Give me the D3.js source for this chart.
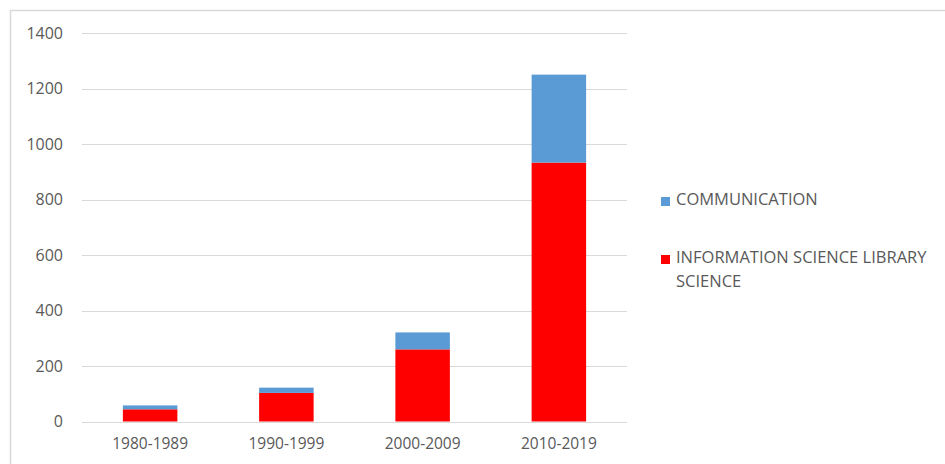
<!DOCTYPE html>
<html>
<head>
<meta charset="utf-8">
<script src="https://cdn.jsdelivr.net/npm/d3@7"></script>
<style>
  body { margin: 0; background: white; }
  svg { display: block; }
</style>
</head>
<body>
<div id="viz-container"></div>
<script>
// data
let decades = ["1980-1989", "1990-1999", "2000-2009", "2010-2019"];
let infoScience = [44, 103, 260, 933];
let communication = [14, 19, 61, 317];
let yTicks = [0, 200, 400, 600, 800, 1000, 1200, 1400];
let seriesNames = ["COMMUNICATION", "INFORMATION SCIENCE LIBRARY SCIENCE"];
let seriesColors = ["#5B9BD5", "#FF0000"];

let vizWidth = 945;
let vizHeight = 464;

let viz = d3.select("#viz-container")
    .append("svg")
        .attr("width", vizWidth)
        .attr("height", vizHeight)
        .style("font-family", "'Open Sans', sans-serif");

// chart frame
viz.append("rect")
    .attr("x", 10.5)
    .attr("y", 10.5)
    .attr("width", 960)
    .attr("height", 480)
    .attr("fill", "white")
    .attr("stroke", "#D9D9D9")
    .attr("stroke-width", 1.5);

let rows = decades.map(function(d, i){
    return { decade: d, info: infoScience[i], comm: communication[i] };
});

let stack = d3.stack().keys(["info", "comm"]);
let layers = stack(rows);

let x = d3.scaleBand()
    .domain(decades)
    .range([82, 627])
    .paddingInner(0.6)
    .paddingOuter(0.3);

let y = d3.scaleLinear()
    .domain([0, 1400])
    .range([421.5, 33]);

// gridlines
viz.append("g")
    .selectAll("line")
    .data(yTicks)
    .enter().append("line")
        .attr("x1", 82)
        .attr("x2", 627)
        .attr("y1", d => Math.round(y(d)) + 0.5)
        .attr("y2", d => Math.round(y(d)) + 0.5)
        .attr("stroke", "#D9D9D9")
        .attr("stroke-width", 1);

// y labels
let yAxis = viz.append("g")
    .attr("transform", "translate(63,0)")
    .call(d3.axisLeft(y).tickValues(yTicks).tickFormat(d3.format("d")).tickSize(0).tickPadding(0));
yAxis.select(".domain").remove();
yAxis.selectAll("text")
    .attr("fill", "#595959")
    .style("font-size", "16px")
    .style("font-family", "'Open Sans', sans-serif");

// bars
let colorOf = { info: "#FF0000", comm: "#5B9BD5" };
viz.append("g")
    .selectAll("g")
    .data(layers)
    .enter().append("g")
        .attr("fill", d => colorOf[d.key])
    .selectAll("rect")
    .data(d => d)
    .enter().append("rect")
        .attr("x", d => x(d.data.decade))
        .attr("width", x.bandwidth())
        .attr("y", d => y(d[1]))
        .attr("height", d => y(d[0]) - y(d[1]));

// x labels
let xAxis = viz.append("g")
    .attr("transform", "translate(0,438)")
    .call(d3.axisBottom(x).tickSize(0).tickPadding(0));
xAxis.select(".domain").remove();
xAxis.selectAll("text")
    .attr("fill", "#595959")
    .attr("dy", "0.71em")
    .style("font-size", "15.5px")
    .style("font-family", "'Open Sans', sans-serif");

// legend
let legend = viz.append("g");
let legendY = [197, 255];
seriesNames.forEach(function(name, i){
    legend.append("rect")
        .attr("x", 661)
        .attr("y", legendY[i])
        .attr("width", 9)
        .attr("height", 9)
        .attr("fill", seriesColors[i]);
});
legend.append("text")
    .attr("x", 676)
    .attr("y", 205)
    .attr("fill", "#595959")
    .style("font-size", "16.5px")
    .text("COMMUNICATION");
let t2 = legend.append("text")
    .attr("x", 676)
    .attr("y", 263)
    .attr("fill", "#595959")
    .style("font-size", "16.5px");
t2.append("tspan").attr("x", 676).text("INFORMATION SCIENCE LIBRARY");
t2.append("tspan").attr("x", 676).attr("dy", 24).text("SCIENCE");
</script>
</body>
</html>
